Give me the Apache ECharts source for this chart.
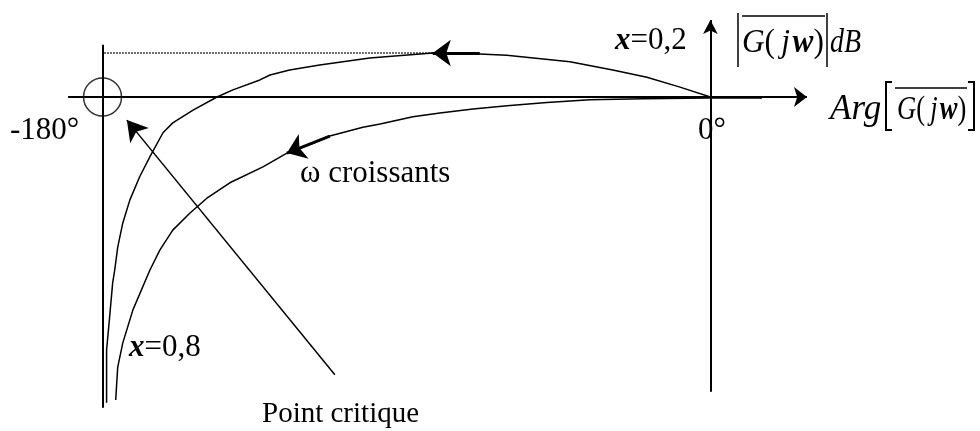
<!DOCTYPE html>
<html>
<head>
<meta charset="utf-8">
<script src="https://cdn.jsdelivr.net/npm/echarts@6/dist/echarts.min.js"></script>
<style>
  html, body { margin: 0; padding: 0; background: #fff; }
  #chart { width: 980px; height: 431px; }
</style>
</head>
<body>
<div id="chart"></div>
<script>
// Black–Nichols locus of a second-order system: phase (deg) vs gain (dB)
const phase02 = [0, -9.0, -18.8, -28.9, -41.6, -60.3, -68.3, -82.2, -100.9, -115.7, -124.6, -130.4, -133.4, -141.4, -146.1, -153.2, -159.2, -162.1, -166.0, -169.0, -171.9, -174.0, -175.5, -176.4, -177.0, -177.9, -178.8, -178.8, -178.8];
const gain02  = [0, 1.8, 3.6, 4.9, 6.4, 7.6, 7.8, 8.0, 7.1, 5.8, 4.9, 4.0, 3.1, 1.3, 0, -2.4, -4.7, -6.5, -10.9, -14.5, -18.7, -22.9, -27.3, -31.5, -33.8, -40.0, -46.0, -52.0, -55.6];

const phase08 = [15.3, 0, -20.0, -35.7, -48.4, -60.2, -70.3, -80.1, -88.1, -97.8, -102.9, -112.7, -117.7, -125.4, -132.5, -142.3, -149.1, -154.1, -159.2, -163.0, -166.0, -171.0, -174.0, -175.5, -175.8, -176.1];
const gain08  = [-0.2, -0.2, -0.3, -0.5, -1.0, -1.6, -2.2, -2.9, -3.6, -4.9, -5.5, -7.1, -8.4, -10.2, -12.7, -15.6, -18.4, -21.1, -24.2, -27.8, -31.5, -38.7, -44.7, -49.1, -52.0, -55.1];

// critical point (-180°, 0 dB) and the resonance level of the ξ = 0,2 curve
const criticalPoint = [-180, 0];
const peakGain02 = 8.0;
const peakPhase02 = -82.2;

const zip = (xs, ys) => xs.map((x, i) => [x, ys[i]]);

const SERIF = '"Liberation Serif", "Times New Roman", serif';
const INK = '#000';

const chart = echarts.init(document.getElementById('chart'), null, { renderer: 'canvas' });

function seg(a, b, style, endSymbol, endSize) {
  return [
    { coord: a, symbol: 'none' },
    { coord: b, symbol: endSymbol || 'none', symbolSize: endSize || 0, lineStyle: style }
  ];
}

const axisStyle = { color: INK, width: 2, type: 'solid' };
const thinStyle = { color: INK, width: 1.5, type: 'solid' };
const thickStyle = { color: INK, width: 3, type: 'solid' };

const option = {
  animation: false,
  backgroundColor: '#fff',
  grid: { left: 35, right: 67, top: 14.5, bottom: 4 },
  xAxis: { type: 'value', min: -200, max: 60, show: false },
  yAxis: { type: 'value', min: -60, max: 15, show: false },
  series: [
    {
      name: 'xi02', type: 'line', data: zip(phase02, gain02),
      showSymbol: false, smooth: false, silent: true,
      lineStyle: { color: INK, width: 1.5 }
    },
    {
      name: 'xi08', type: 'line', data: zip(phase08, gain08),
      showSymbol: false, smooth: false, silent: true,
      lineStyle: { color: INK, width: 1.5 }
    },
    {
      name: 'critique', type: 'scatter', data: [criticalPoint],
      symbol: 'circle', symbolSize: 38, silent: true,
      itemStyle: { color: 'rgba(0,0,0,0)', borderColor: INK, borderWidth: 1.5 }
    },
    {
      name: 'guides', type: 'line', data: [], silent: true,
      markLine: {
        silent: true, animation: false,
        label: { show: false },
        emphasis: { disabled: true },
        lineStyle: thinStyle,
        data: [
          // phase axis
          seg([-190.2, 0], [28.6, 0], axisStyle, 'arrow', [15, 13]),
          // gain axis
          seg([0, -53.6], [0, 14.0], axisStyle, 'arrow', [11, 14]),
          // -180° line
          seg([-180, 9.5], [-180, -56.5], axisStyle),
          // resonance level
          seg([-179.5, peakGain02], [peakPhase02, peakGain02], { color: INK, width: 1.5, type: 'dotted' }),
          // direction of increasing ω on each curve
          seg([-68.3, 8.0], [peakPhase02, peakGain02], thickStyle, 'arrow', [20, 18]),
          seg([-112.7, -7.1], [-125.4, -10.2], thickStyle, 'arrow', [20, 18]),
          // pointer to the critical point
          seg([-111.2, -50.5], [-172.8, -4.2], thinStyle, 'arrow', [18, 20])
        ]
      }
    }
  ]
};

chart.setOption(option);

// text annotations (baseline positions, converted to 'middle' anchors)
function label(text, left, baseline, fs, rich, sx) {
  return {
    type: 'text', silent: true,
    x: left, y: baseline - 0.3 * fs,
    scaleX: sx || 1,
    style: {
      text: text, font: fs + 'px ' + SERIF, fill: INK,
      align: 'left', verticalAlign: 'middle', rich: rich || {}
    }
  };
}
function line(x1, y1, x2, y2, w) {
  return { type: 'line', silent: true, shape: { x1, y1, x2, y2 }, style: { stroke: INK, lineWidth: w || 1.5 } };
}
function poly(points, w) {
  return { type: 'polyline', silent: true, shape: { points }, style: { stroke: INK, fill: null, lineWidth: w || 2 } };
}

const FS = 31, FF = 34;
const xiRich = {
  b: { font: 'italic bold ' + FS + 'px ' + SERIF, fill: INK },
  n: { font: FS + 'px ' + SERIF, fill: INK }
};
const formRich = {
  i: { font: 'italic ' + FF + 'px ' + SERIF, fill: INK },
  u: { font: FF + 'px ' + SERIF, fill: INK },
  b: { font: 'italic bold ' + FF + 'px ' + SERIF, fill: INK }
};
const gjw = '{i|G}{u|(\u2009}{i|j\u200A}{b|w}{u|)}';

chart.setOption({
  graphic: [
    label('-180°', 10, 140, FS),
    label('0°', 698, 140, FS),
    label('{b|x}{n|=0,2}', 615, 50, FS, xiRich),
    label('{b|x}{n|=0,8}', 129, 357, FS, xiRich),
    label('ω croissants', 300, 183, FS),
    label('Point critique', 262, 423, 29),
    // |G(jw)| dB
    label(gjw, 742, 53, FF, formRich, 0.92),
    label('{i|dB}', 830, 53, FF, formRich, 0.82),
    line(738, 13, 738, 67), line(827, 13, 827, 67), line(742, 16, 825, 16),
    // Arg[G(jw)]
    label('{i|Arg}', 830, 120, 35, { i: { font: 'italic 35px ' + SERIF, fill: INK } }),
    label(gjw, 897, 120, FF, formRich, 0.78),
    poly([[892, 82], [886, 82], [886, 130], [892, 130]]),
    poly([[968, 82], [974, 82], [974, 130], [968, 130]]),
    line(895, 88, 967, 88)
  ]
});
</script>
</body>
</html>
